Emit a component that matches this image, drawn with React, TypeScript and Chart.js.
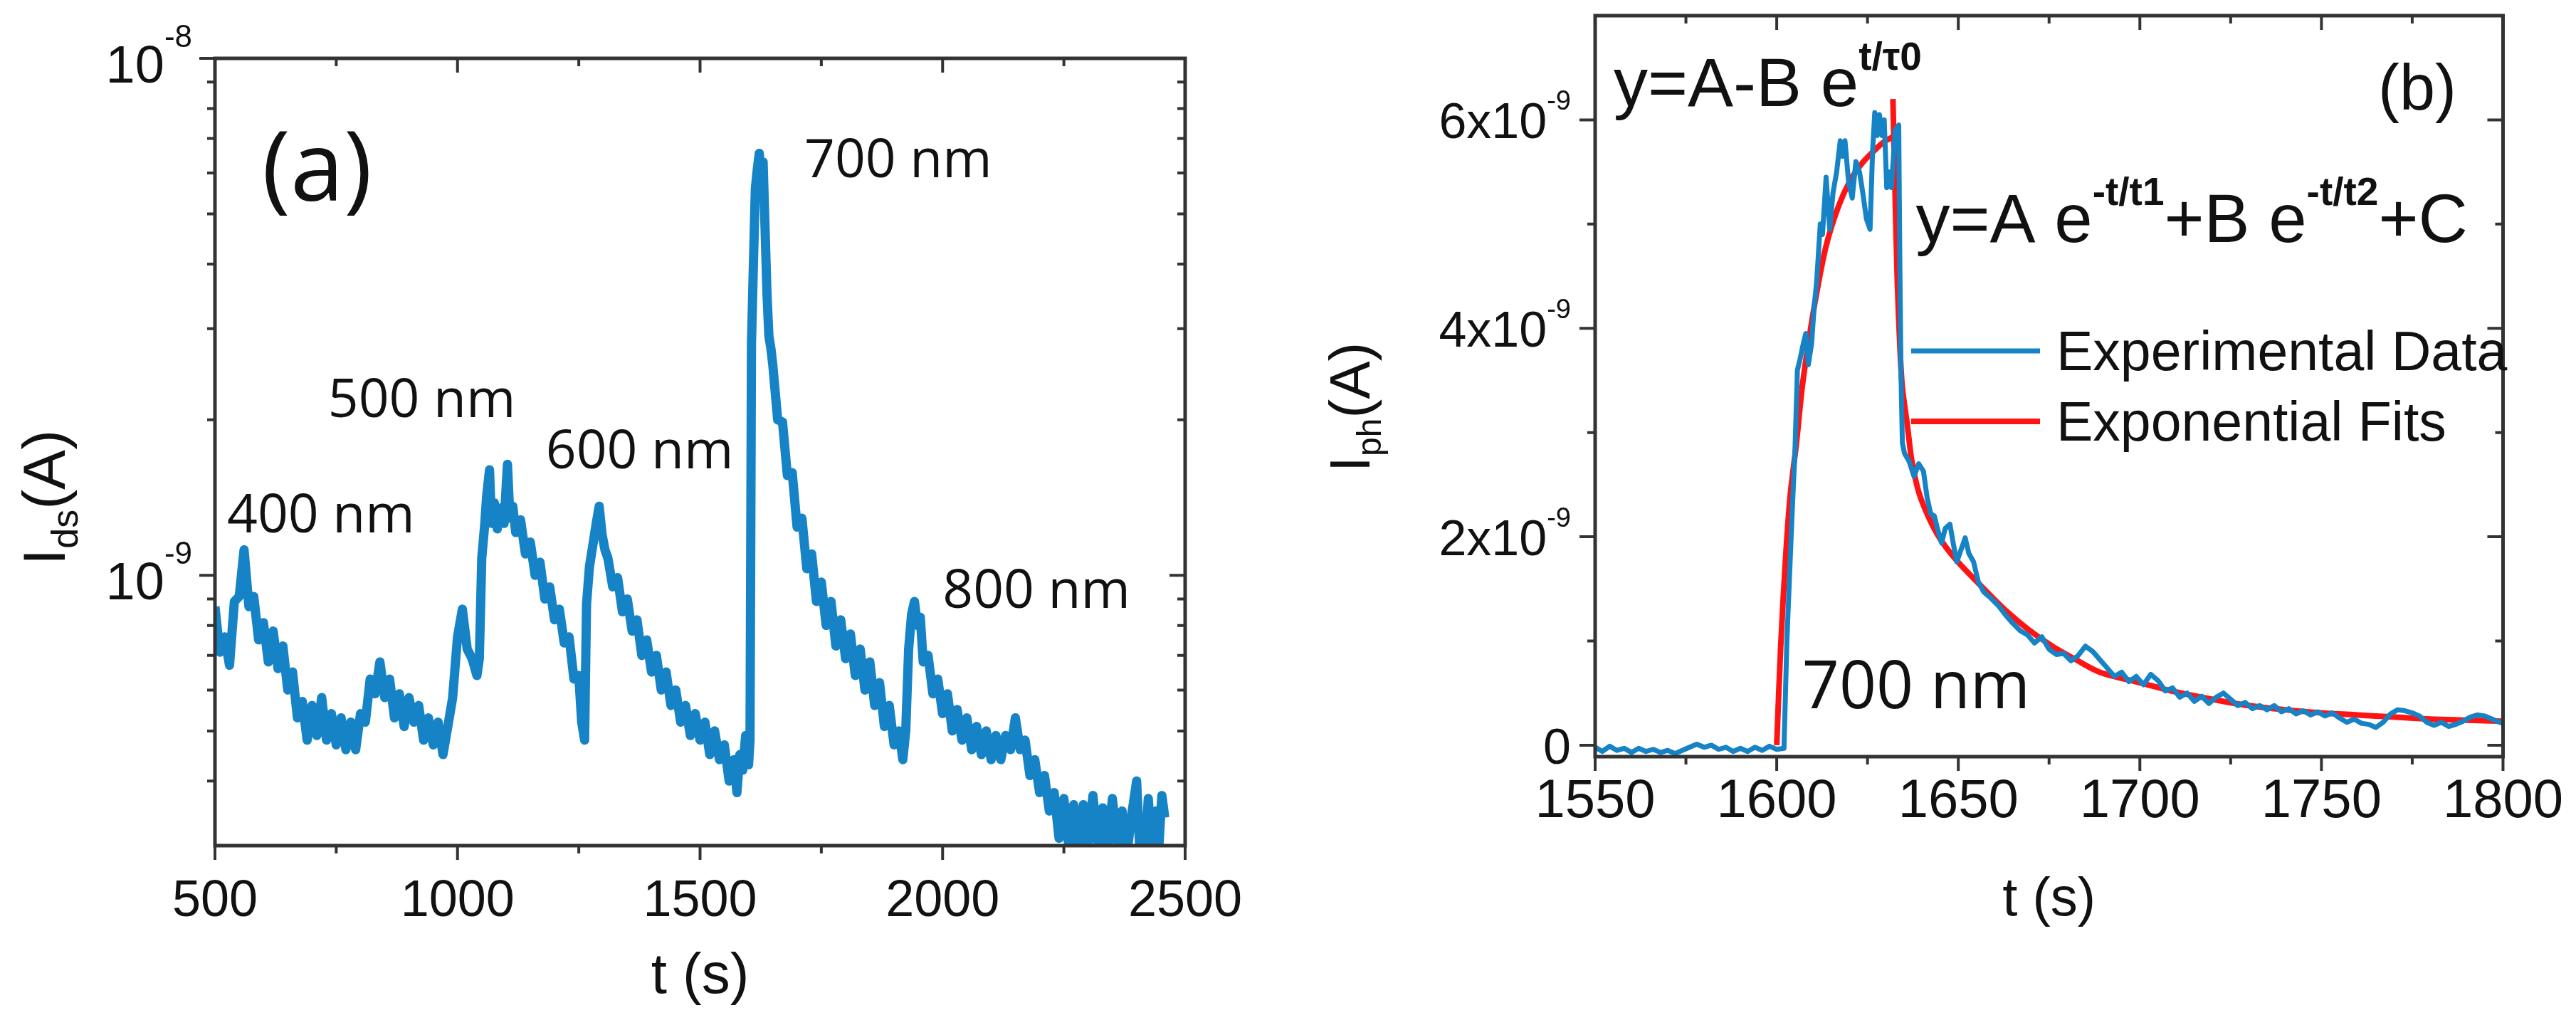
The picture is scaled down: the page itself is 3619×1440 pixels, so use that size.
import { useEffect, useRef } from "react"
import { Chart, registerables } from "chart.js"

Chart.register(...registerables)

const BLUE = "#1683c6"
const RED = "#ff1414"
const INK = "#111111"
const FRAME = "#333333"
const SANS = "'Liberation Sans', Arial, sans-serif"
const ROUND = "'Open Sans', sans-serif"

// (a) drain current, [t (s), I in units of 1e-10 A]
const idsA: [number, number][] = [
  [500, 8.7], [510, 7.1], [520, 7.6], [530, 6.7], [540, 8.9], [550, 9.1], [560, 11.2], [570, 8.7],
  [580, 9.1], [590, 7.5], [600, 8.1], [610, 6.8], [620, 7.8], [630, 6.6], [640, 7.3], [650, 6.0],
  [660, 6.5], [670, 5.3], [680, 5.7], [690, 4.8], [700, 5.6], [710, 4.9], [720, 5.8], [730, 4.8],
  [740, 5.4], [750, 4.7], [760, 5.3], [770, 4.6], [780, 5.2], [790, 4.6], [800, 5.4], [810, 5.2],
  [820, 6.3], [830, 5.9], [840, 6.8], [850, 5.8], [860, 6.3], [870, 5.3], [880, 5.9], [890, 5.1],
  [900, 5.8], [910, 5.2], [920, 5.6], [930, 4.8], [940, 5.3], [950, 4.7], [960, 5.2], [970, 4.5],
  [980, 5.1], [990, 5.8], [1000, 7.6], [1010, 8.6], [1020, 7.2], [1030, 6.9], [1040, 6.4], [1045, 6.9],
  [1050, 10.8], [1056, 12.5], [1060, 14.2], [1066, 16.0], [1070, 12.6], [1076, 13.8], [1082, 12.3],
  [1090, 13.5], [1096, 12.6], [1103, 16.4], [1108, 12.9], [1114, 13.6], [1120, 12.1], [1130, 12.8],
  [1140, 11.0], [1150, 11.6], [1160, 10.0], [1170, 10.6], [1180, 9.0], [1190, 9.5], [1200, 8.2],
  [1210, 8.6], [1220, 7.4], [1230, 7.6], [1240, 6.3], [1250, 6.4], [1256, 5.2], [1262, 4.8],
  [1266, 8.8], [1272, 10.4], [1280, 11.6], [1286, 12.6], [1292, 13.6], [1298, 12.0], [1304, 11.2],
  [1310, 10.8], [1320, 9.5], [1330, 9.9], [1340, 8.5], [1350, 9.0], [1360, 7.8], [1370, 8.2],
  [1380, 7.0], [1390, 7.5], [1400, 6.5], [1410, 7.0], [1420, 6.0], [1430, 6.5], [1440, 5.6],
  [1450, 6.0], [1460, 5.2], [1470, 5.6], [1480, 4.9], [1490, 5.4], [1500, 4.8], [1510, 5.2],
  [1520, 4.5], [1530, 5.0], [1540, 4.4], [1550, 4.7], [1560, 4.0], [1570, 4.4], [1576, 3.8],
  [1582, 4.5], [1588, 4.2], [1594, 4.9], [1600, 4.3], [1603, 4.8],
  [1606, 28.0], [1610, 40.0], [1614, 56.0], [1618, 61.0], [1622, 65.5], [1626, 59.0], [1630, 63.0],
  [1634, 47.0], [1638, 35.0], [1642, 29.0], [1646, 27.5],
  [1650, 25.5], [1660, 20.0], [1670, 19.8], [1680, 15.6], [1690, 15.8], [1700, 12.4], [1710, 12.9],
  [1720, 10.3], [1730, 11.0], [1740, 8.9], [1750, 9.7], [1760, 8.0], [1770, 8.9], [1780, 7.3],
  [1790, 8.2], [1800, 6.9], [1810, 7.7], [1820, 6.4], [1830, 7.2], [1840, 6.0], [1850, 6.8],
  [1860, 5.6], [1870, 6.2], [1880, 5.1], [1890, 5.6], [1900, 4.7], [1910, 5.0], [1918, 4.4],
  [1924, 5.0], [1930, 7.2], [1936, 8.4], [1942, 8.9], [1948, 8.0], [1954, 8.3], [1960, 6.8],
  [1970, 7.0], [1980, 5.9], [1990, 6.3], [2000, 5.4], [2010, 5.9], [2020, 5.0], [2030, 5.5],
  [2040, 4.8], [2050, 5.3], [2060, 4.6], [2070, 5.1], [2080, 4.5], [2090, 5.0], [2100, 4.4],
  [2110, 4.9], [2120, 4.4], [2130, 4.9], [2140, 4.6], [2150, 5.3], [2160, 4.6], [2170, 4.8],
  [2180, 4.1], [2190, 4.4], [2200, 3.8], [2210, 4.1], [2220, 3.5], [2230, 3.8], [2240, 3.1],
  [2250, 3.7], [2260, 3.0], [2270, 3.6], [2280, 2.95], [2290, 3.6], [2300, 3.05], [2310, 3.75],
  [2320, 3.0], [2330, 3.55], [2340, 2.95], [2350, 3.7], [2360, 3.05], [2370, 3.5], [2380, 2.9],
  [2390, 3.45], [2400, 4.0], [2406, 3.0], [2412, 3.4], [2418, 2.95], [2424, 3.7], [2430, 3.05],
  [2440, 3.5], [2446, 3.0], [2452, 3.75], [2458, 3.4],
]

// (b) photocurrent around the 700 nm pulse, [t (s), I in units of 1e-9 A]
const iphB: [number, number][] = [
  [1550, -0.02], [1552, -0.06], [1554, -0.01], [1556, -0.05], [1558, -0.03], [1560, -0.07],
  [1562, -0.03], [1564, -0.06], [1566, -0.04], [1568, -0.07], [1570, -0.05], [1572, -0.08],
  [1574, -0.05], [1576, -0.02], [1578, 0.01], [1580, -0.02], [1582, 0.0], [1584, -0.04],
  [1586, -0.02], [1588, -0.06], [1590, -0.03], [1592, -0.06], [1594, -0.02], [1596, -0.05],
  [1598, -0.01], [1600, -0.04], [1602, -0.03],
  [1602.8, 1.0], [1603.5, 1.6], [1604.4, 2.35], [1605, 2.8], [1605.7, 3.6], [1606.4, 3.7],
  [1607.3, 3.85], [1608, 3.95], [1608.7, 3.65], [1609.6, 3.85], [1610.3, 4.2], [1611, 4.45],
  [1612, 5.0], [1612.6, 4.9], [1613.6, 5.45], [1614.6, 4.95], [1615.5, 5.3], [1616.5, 5.5],
  [1617.5, 5.8], [1618.2, 5.65], [1618.8, 5.8], [1619.8, 5.4], [1620.8, 5.25], [1621.8, 5.6],
  [1622.8, 5.5], [1623.7, 5.3], [1624.7, 5.05], [1625.7, 4.95], [1626.4, 5.7], [1627, 6.07],
  [1627.7, 5.85], [1628.3, 6.05], [1629, 5.85], [1629.6, 6.0], [1630.3, 5.35], [1631, 5.5],
  [1631.6, 5.35], [1632.6, 5.9], [1633.6, 5.95], [1633.9, 4.65], [1634.2, 3.6], [1634.6, 2.9],
  [1635.2, 2.8], [1636.5, 2.72], [1637.8, 2.58], [1639.1, 2.7], [1640.4, 2.63], [1641.4, 2.38],
  [1642.4, 2.22], [1643.4, 2.2], [1644.4, 2.06], [1645.4, 1.94], [1646.4, 2.08], [1647.7, 2.12],
  [1648.7, 1.92], [1649.6, 1.76], [1650.6, 1.86], [1651.9, 1.99], [1652.9, 1.84], [1654.2, 1.76],
  [1655.5, 1.57], [1657, 1.47], [1659, 1.41], [1661, 1.34], [1663, 1.25], [1665, 1.17],
  [1667, 1.1], [1669, 1.06], [1671, 0.98], [1673, 1.04], [1675, 0.92], [1677, 0.87],
  [1679, 0.88], [1681, 0.81], [1683, 0.86], [1685, 0.95], [1687, 0.9], [1689, 0.82],
  [1691, 0.74], [1693, 0.66], [1695, 0.7], [1697, 0.61], [1699, 0.66], [1701, 0.58],
  [1703, 0.68], [1705, 0.62], [1707, 0.52], [1709, 0.55], [1711, 0.46], [1713, 0.5],
  [1715, 0.42], [1717, 0.47], [1719, 0.4], [1721, 0.46], [1723, 0.5], [1725, 0.44],
  [1727, 0.38], [1729, 0.41], [1731, 0.35], [1733, 0.38], [1735, 0.34], [1737, 0.38],
  [1739, 0.32], [1741, 0.35], [1743, 0.3], [1745, 0.33], [1747, 0.29], [1749, 0.32],
  [1751, 0.28], [1753, 0.31], [1755, 0.26], [1757, 0.22], [1759, 0.25], [1761, 0.21],
  [1763, 0.2], [1765, 0.17], [1767, 0.22], [1769, 0.3], [1771, 0.34], [1773, 0.33],
  [1775, 0.31], [1777, 0.28], [1779, 0.22], [1781, 0.19], [1783, 0.22], [1785, 0.18],
  [1787, 0.2], [1789, 0.23], [1791, 0.27], [1793, 0.29], [1795, 0.28], [1797, 0.25],
  [1799, 0.22], [1800, 0.21],
]

const riseFitB: [number, number][] = [
  [1600, 0], [1601.1, 0.95], [1602.4, 1.77], [1603.7, 2.39], [1605.4, 2.89], [1607, 3.43],
  [1609, 3.92], [1611, 4.34], [1613.6, 4.79], [1616.9, 5.16], [1620.1, 5.41], [1623.4, 5.58],
  [1626.7, 5.7], [1630, 5.8], [1633.6, 5.86],
]

const decayFitB: [number, number][] = [
  [1632, 6.2], [1632.6, 5.3], [1633.2, 4.46], [1633.9, 3.84], [1634.6, 3.43], [1635.9, 3.09],
  [1637.2, 2.73], [1639.1, 2.43], [1641.8, 2.19], [1645, 1.98], [1649.6, 1.77], [1656.2, 1.53],
  [1662.8, 1.3], [1669.3, 1.11], [1675.9, 0.95], [1682.4, 0.82], [1689, 0.7], [1700, 0.6],
  [1710, 0.51], [1720, 0.44], [1730, 0.38], [1740, 0.34], [1750, 0.31], [1760, 0.29],
  [1770, 0.27], [1780, 0.25], [1790, 0.24], [1800, 0.23],
]

const xMajorA = [500, 1000, 1500, 2000, 2500]
const xMinorA = [750, 1250, 1750, 2250]
const yMajorA = [1e-9, 1e-8]
const yMinorA = [4e-10, 5e-10, 6e-10, 7e-10, 8e-10, 9e-10, 2e-9, 3e-9, 4e-9, 5e-9, 6e-9, 7e-9, 8e-9, 9e-9]
const yBaseA = ["10", "10"]
const yExpA = ["-9", "-8"]

const xMajorB = [1550, 1600, 1650, 1700, 1750, 1800]
const xMinorB = [1575, 1625, 1675, 1725, 1775]
const yMajorB = [0, 2e-9, 4e-9, 6e-9]
const yMinorB = [1e-9, 3e-9, 5e-9]
const yBaseB = ["0", "2x10", "4x10", "6x10"]
const yExpB = ["", "-9", "-9", "-9"]

const peakNamesA = ["400 nm", "500 nm", "600 nm", "700 nm", "800 nm"]
const peakAtA = [[525, 1.21e-9], [733, 2.02e-9], [1182, 1.61e-9], [1715, 5.89e-9], [2000, 8.65e-10]]

type Part = { text: string; font: string; dy?: number }

function widthOf(ctx: CanvasRenderingContext2D, parts: Part[]) {
  let w = 0
  for (const p of parts) {
    ctx.font = p.font
    w += ctx.measureText(p.text).width
  }
  return w
}

function drawParts(ctx: CanvasRenderingContext2D, parts: Part[], x: number, y: number, sx = 1, align = "left") {
  const w = widthOf(ctx, parts) * sx
  const start = align === "left" ? x : align === "right" ? x - w : x - w / 2
  ctx.save()
  ctx.translate(start, y)
  ctx.scale(sx, 1)
  ctx.textAlign = "left"
  ctx.textBaseline = "alphabetic"
  let cx = 0
  for (const p of parts) {
    ctx.font = p.font
    ctx.fillText(p.text, cx, p.dy ?? 0)
    cx += ctx.measureText(p.text).width
  }
  ctx.restore()
}

// frame, mirrored ticks, superscript labels and notes
const decorPlugin = {
  id: "decor",
  afterDraw(chart: any, _args: any, o: any) {
    const ctx: CanvasRenderingContext2D = chart.ctx
    const a = chart.chartArea
    const xs = chart.scales.x
    const ys = chart.scales.y
    ctx.save()
    ctx.fillStyle = INK
    ctx.strokeStyle = FRAME
    ctx.lineCap = "butt"

    ctx.lineWidth = 4
    ctx.beginPath()
    const xt = (v: number, len: number) => {
      const px = xs.getPixelForValue(v)
      ctx.moveTo(px, a.bottom)
      ctx.lineTo(px, a.bottom + len)
      ctx.moveTo(px, a.top)
      ctx.lineTo(px, a.top + len)
    }
    const yt = (v: number, len: number) => {
      const py = ys.getPixelForValue(v)
      ctx.moveTo(a.left - len, py)
      ctx.lineTo(a.left, py)
      ctx.moveTo(a.right - len, py)
      ctx.lineTo(a.right, py)
    }
    o.xMajor.forEach((v: number) => xt(v, 20))
    o.xMinor.forEach((v: number) => xt(v, 11))
    o.yMajor.forEach((v: number) => yt(v, 22))
    o.yMinor.forEach((v: number) => yt(v, 11))
    ctx.stroke()

    ctx.lineWidth = 5
    ctx.strokeRect(a.left, a.top, a.right - a.left, a.bottom - a.top)

    o.yMajor.forEach((v: number, i: number) => {
      const py = ys.getPixelForValue(v)
      const parts: Part[] = [{ text: o.yBase[i], font: o.labelFont }]
      if (o.yExp[i]) parts.push({ text: o.yExp[i], font: o.supFont, dy: o.supDy - o.baseDy })
      drawParts(ctx, parts, a.left - o.labelGap, py + o.baseDy, 1, "right")
    })

    drawParts(ctx, [{ text: "t (s)", font: o.xTitleFont }], (a.left + a.right) / 2, o.xTitleY, 1, "center")

    ctx.save()
    ctx.translate(o.yTitleX, o.yTitleY)
    ctx.rotate(-Math.PI / 2)
    drawParts(ctx, o.yTitle, 0, 0, 1, "center")
    ctx.restore()

    for (const n of o.notes) {
      drawParts(ctx, n.parts, xs.getPixelForValue(n.x), ys.getPixelForValue(n.y), n.sx ?? 1)
    }

    if (o.legend) {
      const items = chart.data.datasets.filter((d: any) => d.label)
      items.forEach((d: any, i: number) => {
        const y = a.top + o.legend.rows[i]
        ctx.strokeStyle = d.borderColor
        ctx.lineWidth = d.borderWidth
        ctx.beginPath()
        ctx.moveTo(a.left + o.legend.x0, y)
        ctx.lineTo(a.left + o.legend.x1, y)
        ctx.stroke()
        drawParts(ctx, [{ text: d.label, font: o.legend.font }], a.left + o.legend.tx, y + o.legend.dy)
      })
    }
    ctx.restore()
  },
}

function xAxis(min: number, max: number, step: number, size: number, pad: number, height: number) {
  return {
    type: "linear",
    min,
    max,
    grid: { display: false, drawTicks: false },
    border: { display: false },
    ticks: {
      stepSize: step,
      autoSkip: false,
      maxRotation: 0,
      minRotation: 0,
      padding: pad,
      color: INK,
      font: { family: SANS, size },
      callback: (v: number) => String(v),
    },
    afterFit: (s: any) => {
      s.height = height
    },
  }
}

function configA() {
  return {
    type: "line",
    data: {
      datasets: [
        {
          label: "Ids",
          data: idsA.map(([t, v]) => ({ x: t, y: v * 1e-10 })),
          borderColor: BLUE,
          borderWidth: 13,
          borderJoinStyle: "round",
          pointRadius: 0,
          tension: 0,
          clip: 0,
        },
      ],
    },
    options: {
      animation: false,
      responsive: true,
      maintainAspectRatio: false,
      devicePixelRatio: 1,
      layout: { padding: { left: 0, top: 82, right: 135, bottom: 0 } },
      scales: {
        x: xAxis(500, 2500, 500, 72, 36, 252),
        y: {
          type: "logarithmic",
          min: 3e-10,
          max: 1e-8,
          grid: { display: false, drawTicks: false },
          border: { display: false },
          ticks: { display: false },
          afterFit: (s: any) => {
            s.width = 302
          },
        },
      },
      plugins: {
        legend: { display: false },
        tooltip: { enabled: false },
        decor: {
          xMajor: xMajorA,
          xMinor: xMinorA,
          yMajor: yMajorA,
          yMinor: yMinorA,
          yBase: yBaseA,
          yExp: yExpA,
          labelFont: `74px ${SANS}`,
          supFont: `44px ${SANS}`,
          labelGap: 32,
          baseDy: 34,
          supDy: -16,
          xTitleFont: `80px ${SANS}`,
          xTitleY: 1395,
          yTitleX: 91,
          yTitleY: 699,
          yTitle: [
            { text: "I", font: `84px ${SANS}` },
            { text: "ds", font: `52px ${SANS}`, dy: 18 },
            { text: "(A)", font: `84px ${SANS}` },
          ],
          notes: [
            { x: 597, y: 5.3e-9, parts: [{ text: "(a)", font: `135px ${ROUND}` }] },
            ...peakNamesA.map((name, i) => ({
              x: peakAtA[i][0],
              y: peakAtA[i][1],
              parts: [{ text: name, font: `75px ${ROUND}` }],
            })),
          ],
        },
      },
    },
    plugins: [decorPlugin],
  }
}

function configB() {
  const big = `96px ${SANS}`
  const sup = `bold 55px ${SANS}`
  return {
    type: "line",
    data: {
      datasets: [
        {
          label: "Experimental Data",
          data: iphB.map(([t, v]) => ({ x: t, y: v * 1e-9 })),
          borderColor: BLUE,
          borderWidth: 7,
          borderJoinStyle: "round",
          pointRadius: 0,
          tension: 0,
          clip: 0,
        },
        {
          label: "Exponential Fits",
          data: riseFitB.map(([t, v]) => ({ x: t, y: v * 1e-9 })),
          borderColor: RED,
          borderWidth: 8,
          borderJoinStyle: "round",
          pointRadius: 0,
          tension: 0.3,
          clip: 0,
        },
        {
          data: decayFitB.map(([t, v]) => ({ x: t, y: v * 1e-9 })),
          borderColor: RED,
          borderWidth: 8,
          borderJoinStyle: "round",
          pointRadius: 0,
          tension: 0.3,
          clip: 0,
        },
      ],
    },
    options: {
      animation: false,
      responsive: true,
      maintainAspectRatio: false,
      devicePixelRatio: 1,
      layout: { padding: { left: 0, top: 22, right: 96, bottom: 0 } },
      scales: {
        x: xAxis(1550, 1800, 50, 76, 18, 377),
        y: {
          type: "linear",
          min: -0.11e-9,
          max: 7e-9,
          grid: { display: false, drawTicks: false },
          border: { display: false },
          ticks: { display: false },
          afterFit: (s: any) => {
            s.width = 441
          },
        },
      },
      plugins: {
        legend: { display: false },
        tooltip: { enabled: false },
        decor: {
          xMajor: xMajorB,
          xMinor: xMinorB,
          yMajor: yMajorB,
          yMinor: yMinorB,
          yBase: yBaseB,
          yExp: yExpB,
          labelFont: `70px ${SANS}`,
          supFont: `38px ${SANS}`,
          labelGap: 34,
          baseDy: 26,
          supDy: -14,
          xTitleFont: `76px ${SANS}`,
          xTitleY: 1286,
          yTitleX: 124,
          yTitleY: 572,
          yTitle: [
            { text: "I", font: `80px ${SANS}` },
            { text: "ph", font: `48px ${SANS}`, dy: 16 },
            { text: "(A)", font: `80px ${SANS}` },
          ],
          notes: [
            {
              x: 1555.1,
              y: 6.13e-9,
              parts: [
                { text: "y=A-B e", font: big },
                { text: "t/τ0", font: sup, dy: -51 },
              ],
            },
            { x: 1765.6, y: 6.1e-9, parts: [{ text: "(b)", font: `90px ${SANS}` }] },
            {
              x: 1638.3,
              y: 4.83e-9,
              parts: [
                { text: "y=A e", font: big },
                { text: "-t/t1", font: sup, dy: -52 },
                { text: "+B e", font: big },
                { text: "-t/t2", font: sup, dy: -52 },
                { text: "+C", font: big },
              ],
            },
            { x: 1607, y: 0.354e-9, sx: 0.97, parts: [{ text: "700 nm", font: `94px ${ROUND}` }] },
          ],
          legend: { x0: 444, x1: 625, tx: 648, rows: [471, 570], dy: 27, font: `77px ${SANS}` },
        },
      },
    },
    plugins: [decorPlugin],
  }
}

function Panel({ left, width, make }: { left: number; width: number; make: () => any }) {
  const canvasRef = useRef<HTMLCanvasElement>(null)
  const chartRef = useRef<Chart | null>(null)

  useEffect(() => {
    if (!canvasRef.current) return
    if (chartRef.current) chartRef.current.destroy()
    chartRef.current = new Chart(canvasRef.current, make())
    return () => {
      if (chartRef.current) {
        chartRef.current.destroy()
        chartRef.current = null
      }
    }
  }, [make])

  return (
    <div style={{ position: "absolute", left, top: 0, width, height: 1440 }}>
      <canvas ref={canvasRef}></canvas>
    </div>
  )
}

export default function App() {
  return (
    <div style={{ position: "absolute", left: 0, top: 0, width: 3619, height: 1440, background: "#fff" }}>
      <Panel left={0} width={1800} make={configA} />
      <Panel left={1800} width={1819} make={configB} />
    </div>
  )
}
